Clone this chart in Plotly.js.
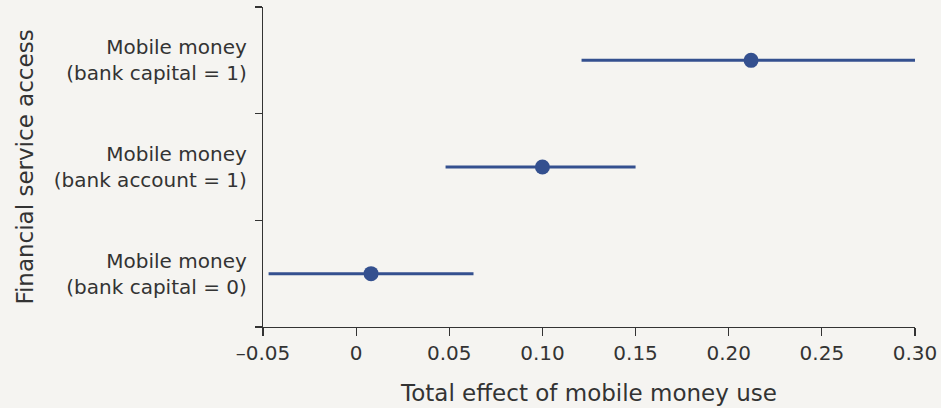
<!DOCTYPE html>
<html>
<head>
<meta charset="utf-8">
<script src="https://cdn.plot.ly/plotly-3.0.1.min.js"></script>
<style>html,body{margin:0;padding:0;background:#f5f4f1;}#chart{width:941px;height:408px;}</style>
</head>
<body>
<div id="chart"></div>
<script>
const categories = ["Mobile money<br>(bank capital = 0)", "Mobile money<br>(bank account = 1)", "Mobile money<br>(bank capital = 1)"];
const estimates = [0.008, 0.100, 0.212];
const lower = [-0.047, 0.048, 0.121];
const upper = [0.063, 0.150, 0.300];
const xTickVals = [-0.05, 0, 0.05, 0.10, 0.15, 0.20, 0.25, 0.30];
const xTickText = ["\u20130.05", "0", "0.05", "0.10", "0.15", "0.20", "0.25", "0.30"];

const plus = upper.map((u, i) => u - estimates[i]);
const minus = estimates.map((e, i) => e - lower[i]);
const blue = "#34508f";
const textColor = "#333333";
const fontFamily = "'DejaVu Sans', sans-serif";

const trace = {
  type: "scatter",
  mode: "markers",
  x: estimates,
  y: categories,
  marker: {color: blue, size: 15},
  error_x: {type: "data", symmetric: false, array: plus, arrayminus: minus, color: blue, thickness: 3, width: 0},
  hoverinfo: "x+y"
};

const layout = {
  width: 941, height: 408,
  paper_bgcolor: "#f5f4f1", plot_bgcolor: "#f5f4f1",
  margin: {l: 263, r: 26, t: 7, b: 81},
  showlegend: false,
  font: {family: fontFamily, color: textColor, size: 20},
  xaxis: {
    range: [-0.05, 0.30],
    tickvals: xTickVals, ticktext: xTickText,
    ticks: "outside", ticklen: 8, tickwidth: 1.2, tickcolor: "#333",
    showline: true, linecolor: "#333", linewidth: 1.2,
    showgrid: false, zeroline: false,
    tickfont: {size: 20, color: textColor},
    title: {text: "Total effect of mobile money use", font: {size: 23, color: textColor}, standoff: 20}
  },
  yaxis: {
    type: "category",
    range: [-0.5, 2.5],
    tickson: "boundaries",
    ticks: "outside", ticklen: 7, tickwidth: 1.2, tickcolor: "#333",
    ticklabelstandoff: 11,
    showline: true, linecolor: "#333", linewidth: 1.2,
    showgrid: false, zeroline: false,
    tickfont: {size: 20, color: textColor},
    title: {text: "Financial service access", font: {size: 23, color: textColor}, standoff: 13}
  }
};

Plotly.newPlot("chart", [trace], layout, {displayModeBar: false, staticPlot: true});
</script>
</body>
</html>
